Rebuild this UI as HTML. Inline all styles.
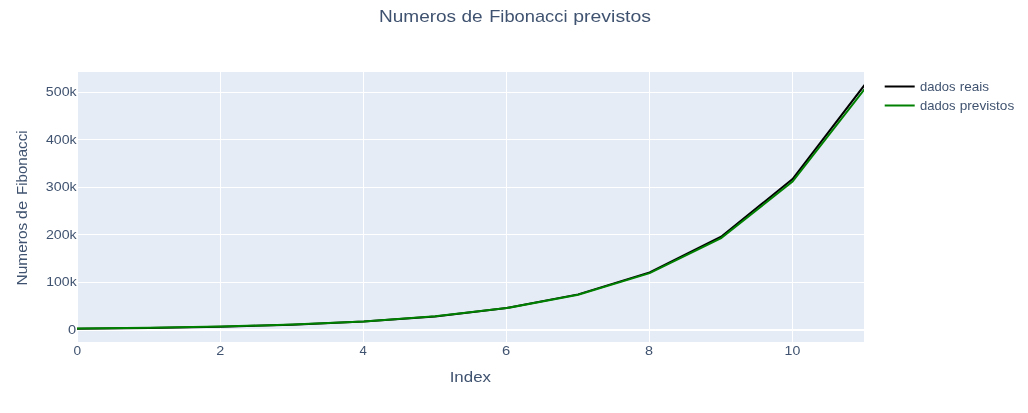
<!DOCTYPE html>
<html><head><meta charset="utf-8"><title>Numeros de Fibonacci previstos</title>
<style>html,body{margin:0;padding:0;background:#fff;overflow:hidden;}svg{display:block;will-change:transform;}text{font-family:"Liberation Sans",sans-serif;fill:#2a3f5f;white-space:pre;fill-opacity:0.9;}</style></head><body>
<svg width="1028" height="413" viewBox="0 0 1028 413">
<rect x="0" y="0" width="1028" height="413" fill="#ffffff"/>
<defs><clipPath id="pc"><rect x="76.9" y="72" width="787.1" height="270"/></clipPath></defs>
<rect x="78" y="72" width="786" height="270" fill="#e5ecf6"/>
<rect x="220" y="72" width="1" height="270" fill="#fff"/>
<rect x="363" y="72" width="1" height="270" fill="#fff"/>
<rect x="506" y="72" width="1" height="270" fill="#fff"/>
<rect x="649" y="72" width="1" height="270" fill="#fff"/>
<rect x="792" y="72" width="1" height="270" fill="#fff"/>
<rect x="78" y="282" width="786" height="1" fill="#fff"/>
<rect x="78" y="234" width="786" height="1" fill="#fff"/>
<rect x="78" y="187" width="786" height="1" fill="#fff"/>
<rect x="78" y="139" width="786" height="1" fill="#fff"/>
<rect x="78" y="92" width="786" height="1" fill="#fff"/>
<rect x="78" y="329" width="786" height="2" fill="#fff"/>
<g clip-path="url(#pc)" fill="none" stroke-width="2" stroke-linejoin="miter" stroke-linecap="square">
<path d="M78.00,328.77L149.45,328.01L220.91,326.79L292.36,324.80L363.82,321.59L435.27,316.39L506.73,307.98L578.18,294.36L649.64,272.34L721.09,236.70L792.55,179.04L864.00,85.74" stroke="#000000"/>
<path d="M78.00,328.51L149.45,327.77L220.91,326.56L292.36,324.61L363.82,321.46L435.27,316.35L506.73,308.10L578.18,294.74L649.64,273.12L721.09,238.14L792.55,181.55L864.00,89.98" stroke="#008000"/>
</g>
<rect x="884.7" y="85.5" width="30" height="2" fill="#000000"/>
<rect x="884.7" y="104.5" width="30" height="2" fill="#008000"/>
<text x="378.98" y="21.80" font-size="17px" textLength="77.17" lengthAdjust="spacingAndGlyphs">Numeros</text>
<text x="461.54" y="21.80" font-size="17px" textLength="21.19" lengthAdjust="spacingAndGlyphs">de</text>
<text x="489.18" y="21.80" font-size="17px" textLength="78.32" lengthAdjust="spacingAndGlyphs">Fibonacci</text>
<text x="573.25" y="21.80" font-size="17px" textLength="77.80" lengthAdjust="spacingAndGlyphs">previstos</text>
<text x="45.86" y="96.00" font-size="12.5px" textLength="30.79" lengthAdjust="spacingAndGlyphs">500k</text>
<text x="46.03" y="144.00" font-size="12.5px" textLength="30.64" lengthAdjust="spacingAndGlyphs">400k</text>
<text x="45.88" y="191.00" font-size="12.5px" textLength="30.80" lengthAdjust="spacingAndGlyphs">300k</text>
<text x="45.97" y="239.00" font-size="12.5px" textLength="30.73" lengthAdjust="spacingAndGlyphs">200k</text>
<text x="46.28" y="286.00" font-size="12.5px" textLength="30.38" lengthAdjust="spacingAndGlyphs">100k</text>
<text x="68.14" y="333.80" font-size="12.5px" textLength="8.13" lengthAdjust="spacingAndGlyphs">0</text>
<text x="73.60" y="355.00" font-size="12.5px" textLength="7.61" lengthAdjust="spacingAndGlyphs">0</text>
<text x="216.26" y="355.00" font-size="12.5px" textLength="8.01" lengthAdjust="spacingAndGlyphs">2</text>
<text x="359.58" y="355.00" font-size="12.5px" textLength="7.36" lengthAdjust="spacingAndGlyphs">4</text>
<text x="501.91" y="355.00" font-size="12.5px" textLength="8.20" lengthAdjust="spacingAndGlyphs">6</text>
<text x="644.96" y="355.00" font-size="12.5px" textLength="8.02" lengthAdjust="spacingAndGlyphs">8</text>
<text x="784.56" y="355.00" font-size="12.5px" textLength="15.73" lengthAdjust="spacingAndGlyphs">10</text>
<text x="449.66" y="381.90" font-size="14.2px" textLength="41.33" lengthAdjust="spacingAndGlyphs">Index</text>
<text transform="translate(26.90,285.44) rotate(-90)" font-size="14.2px" textLength="62.73" lengthAdjust="spacingAndGlyphs">Numeros</text>
<text transform="translate(26.90,219.19) rotate(-90)" font-size="14.2px" textLength="18.25" lengthAdjust="spacingAndGlyphs">de</text>
<text transform="translate(26.90,194.99) rotate(-90)" font-size="14.2px" textLength="64.53" lengthAdjust="spacingAndGlyphs">Fibonacci</text>
<text x="919.98" y="90.80" font-size="12.8px" textLength="35.50" lengthAdjust="spacingAndGlyphs">dados</text>
<text x="959.80" y="90.80" font-size="12.8px" textLength="29.32" lengthAdjust="spacingAndGlyphs">reais</text>
<text x="919.98" y="109.60" font-size="12.8px" textLength="35.50" lengthAdjust="spacingAndGlyphs">dados</text>
<text x="959.73" y="109.60" font-size="12.8px" textLength="54.50" lengthAdjust="spacingAndGlyphs">previstos</text>
</svg></body></html>
